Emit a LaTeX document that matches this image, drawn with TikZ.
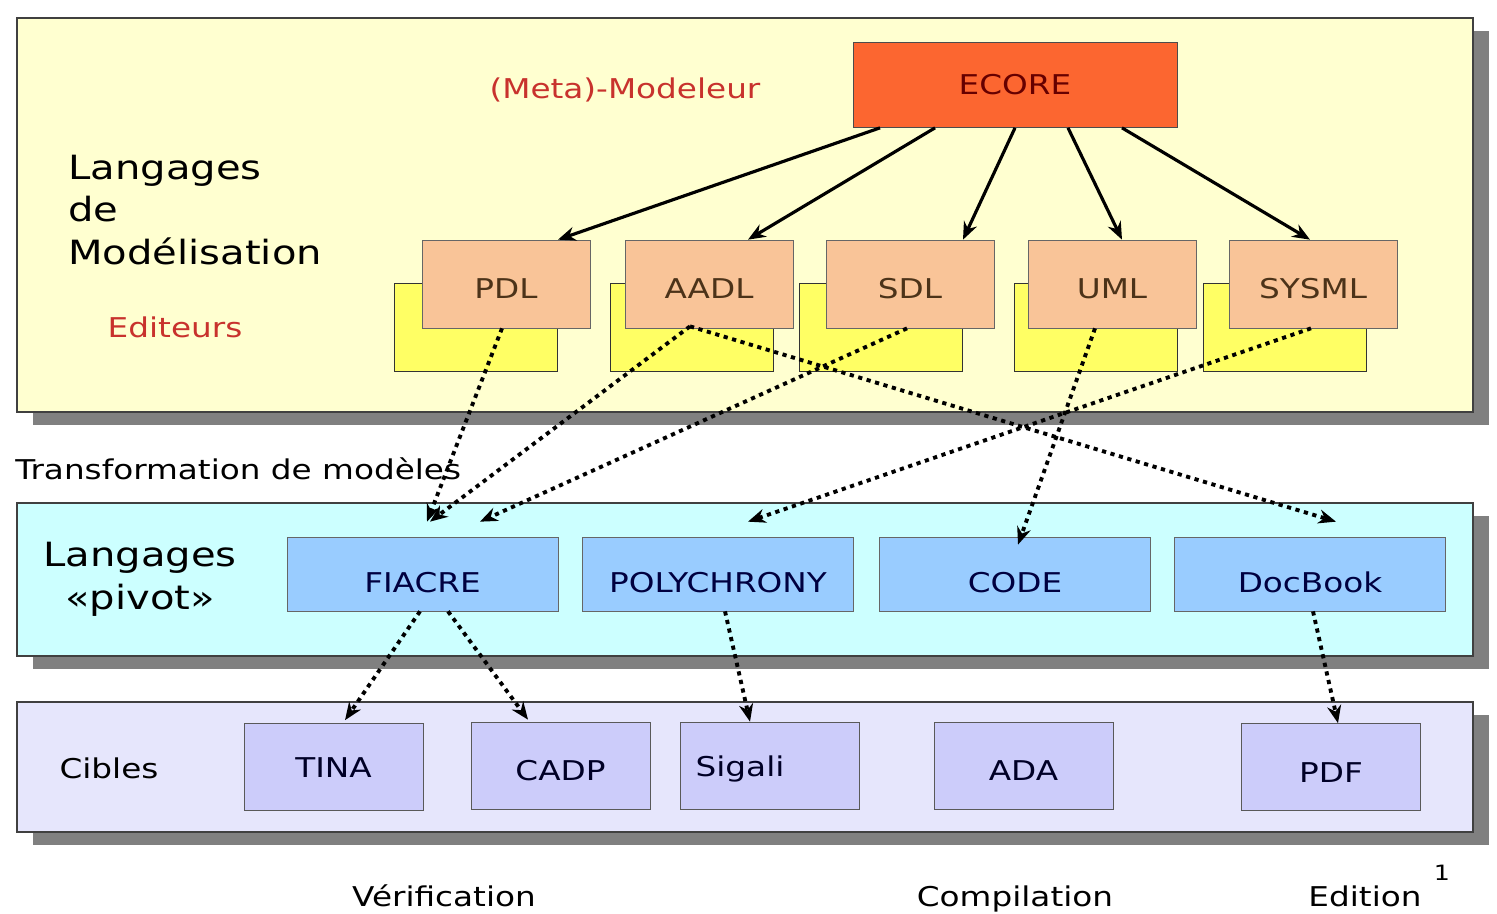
\documentclass[tikz,border=0pt]{standalone}
\usepackage{fontspec}
\setmainfont{DejaVu Sans}[FakeStretch=1.2]
\usepackage{xcolor}
\usetikzlibrary{arrows.meta}

\definecolor{panelyellow}{RGB}{255,255,208}
\definecolor{panelcyan}{RGB}{204,255,255}
\definecolor{panellav}{RGB}{230,230,252}
\definecolor{ecorefill}{RGB}{252,102,48}
\definecolor{editfill}{RGB}{249,196,152}
\definecolor{backfill}{RGB}{255,255,100}
\definecolor{pivotfill}{RGB}{153,204,255}
\definecolor{ciblefill}{RGB}{204,204,250}
\definecolor{shadowgray}{RGB}{128,128,128}
\definecolor{labelred}{RGB}{200,50,45}

\begin{document}
\begin{tikzpicture}[
    x=0.02cm, y=-0.02cm,
    every node/.style={font=\fontsize{15.5}{19}\selectfont},
    panel/.style={draw=black!75, line width=0.8pt},
    shade/.style={fill=shadowgray, draw=none},
    ecorebox/.style={draw=black!70, fill=ecorefill, minimum width=6.48cm,
                     minimum height=1.7cm, text=red!40!black},
    editbox/.style={draw=black!60, fill=editfill, minimum width=3.36cm,
                    minimum height=1.76cm, text=brown!40!black,
                    text height=0.56cm, text depth=0cm},
    backbox/.style={draw=black!80, fill=backfill, minimum width=3.26cm,
                    minimum height=1.76cm},
    pivotbox/.style={draw=black!60, fill=pivotfill, minimum width=5.42cm,
                     minimum height=1.48cm, text=blue!25!black,
                     text height=0.72cm, text depth=0cm},
    ciblebox/.style={draw=black!65, fill=ciblefill, minimum width=3.58cm,
                     minimum height=1.74cm, text=blue!15!black,
                     text height=0.6cm, text depth=0cm},
    meta/.style={-{Stealth[length=10pt,width=8pt]}, line width=1.8pt},
    transfo/.style={-{Stealth[length=10pt,width=8pt]}, line width=2.2pt,
                    dash pattern=on 2.4pt off 2.6pt},
  ]
    \useasboundingbox (0,0) rectangle (1497,913);

    % panneaux
    \fill[shade] (33,31) rectangle (1489,425);
    \filldraw[panel, fill=panelyellow] (17,18) rectangle (1473,412);
    \fill[shade] (33,516) rectangle (1489,669);
    \filldraw[panel, fill=panelcyan] (17,503) rectangle (1473,656);
    \fill[shade] (33,715) rectangle (1489,845);
    \filldraw[panel, fill=panellav] (17,702) rectangle (1473,832);

    % textes des panneaux
    \node[text=labelred] (metalbl) at (625,90) {(Meta)-Modeleur};
    \node[anchor=west, inner sep=0, align=left,
          font=\fontsize{19}{24}\selectfont] (modlbl) at (68,210)
          {Langages\\de\\Modélisation};
    \node[text=labelred] (editlbl) at (175,327) {Editeurs};
    \node[anchor=west, inner sep=0] (transfolbl) at (15,469)
          {Transformation de modèles};
    \node[align=center, font=\fontsize{19}{24.5}\selectfont] (pivotlbl)
          at (140,579) {Langages\\«pivot»};
    \node (ciblelbl) at (109,768) {Cibles};

    % meta-modeleur
    \node[ecorebox] (ecore) at (1015,85) {ECORE};

    % editeurs (cadres jaunes derriere)
    \node[backbox] (pdlback)   at (475.5,327) {};
    \node[backbox] (aadlback)  at (691.5,327) {};
    \node[backbox] (sdlback)   at (881,327)   {};
    \node[backbox] (umlback)   at (1096,327)  {};
    \node[backbox] (sysmlback) at (1285,327)  {};

    \node[editbox] (pdl)   at (506,284)  {PDL};
    \node[editbox] (aadl)  at (709,284)  {AADL};
    \node[editbox] (sdl)   at (910,284)  {SDL};
    \node[editbox] (uml)   at (1112,284) {UML};
    \node[editbox] (sysml) at (1313,284) {SYSML};

    % langages pivot
    \node[pivotbox] (fiacre)     at (422.5,574) {FIACRE};
    \node[pivotbox] (polychrony) at (718,574)   {POLYCHRONY};
    \node[pivotbox] (code)       at (1015,574)  {CODE};
    \node[pivotbox] (docbook)    at (1310,574)  {DocBook};

    % cibles
    \node[ciblebox, text height=0.4cm] (tina) at (333.5,767) {TINA};
    \node[ciblebox] (cadp)   at (560.5,765.5) {CADP};
    \node[ciblebox, text height=0.42cm] (sigali) at (770,765.5)
          {\hspace*{-1.2cm}Sigali};
    \node[ciblebox] (ada)    at (1023.5,765.5) {ADA};
    \node[ciblebox] (pdf)    at (1331,767)   {PDF};

    % legendes du bas
    \node[anchor=base] (verif)   at (444,906)  {Vérification};
    \node[anchor=base] (compil)  at (1015,906) {Compilation};
    \node[anchor=base] (edition) at (1365,906) {Edition};
    \node[font=\fontsize{12}{14}\selectfont] (pagenum) at (1442,873) {1};

    % fleches ECORE -> editeurs
    \draw[meta] ([xshift=-2.7cm]ecore.south) -- ([xshift=1.04cm]pdl.north);
    \draw[meta] ([xshift=-1.6cm]ecore.south) -- ([xshift=0.78cm]aadl.north);
    \draw[meta] (ecore.south) -- ([xshift=1.06cm]sdl.north);
    \draw[meta] ([xshift=1.06cm]ecore.south) -- ([xshift=0.2cm]uml.north);
    \draw[meta] ([xshift=2.14cm]ecore.south) -- ([xshift=-0.06cm]sysml.north);

    % transformations editeurs -> pivots
    \draw[transfo] ([xshift=-0.08cm]pdl.south)
                -- ([xshift=0.09cm, yshift=0.3cm]fiacre.north);
    \draw[transfo] ([xshift=-0.38cm, yshift=0.04cm]aadl.south)
                -- ([xshift=0.15cm, yshift=0.3cm]fiacre.north);
    \draw[transfo] ([xshift=-0.38cm, yshift=0.04cm]aadl.south)
                -- ([xshift=0.52cm, yshift=0.3cm]docbook.north);
    \draw[transfo] ([xshift=-0.06cm]sdl.south)
                -- ([xshift=1.15cm, yshift=0.3cm]fiacre.north);
    \draw[transfo] ([xshift=-0.34cm]uml.south)
                -- ([xshift=0.06cm, yshift=-0.16cm]code.north);
    \draw[transfo] ([xshift=-0.04cm]sysml.south)
                -- ([xshift=0.6cm, yshift=0.3cm]polychrony.north);

    % pivots -> cibles
    \draw[transfo] ([xshift=-0.05cm]fiacre.south)
                -- ([xshift=0.23cm, yshift=0.06cm]tina.north);
    \draw[transfo] ([xshift=0.51cm]fiacre.south)
                -- ([xshift=-0.65cm, yshift=0.04cm]cadp.north);
    \draw[transfo] ([xshift=0.14cm]polychrony.south)
                -- ([xshift=-0.4cm]sigali.north);
    \draw[transfo] ([xshift=0.06cm]docbook.south)
                -- ([xshift=0.14cm]pdf.north);
  \end{tikzpicture}
\end{document}
